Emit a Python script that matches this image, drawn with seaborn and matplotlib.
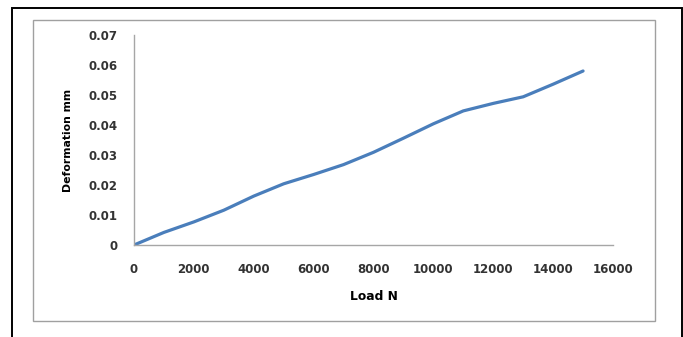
import matplotlib
matplotlib.use("Agg")
import matplotlib.pyplot as plt
import seaborn as sns
import pandas as pd
from matplotlib.patches import Rectangle

load_n = [0, 1000, 2000, 3000, 4000, 5000, 6000, 7000, 8000, 9000,
          10000, 11000, 12000, 13000, 14000, 15000]
deformation_mm = [0.0, 0.0042, 0.0077, 0.0116, 0.0163, 0.0204, 0.0235, 0.0268,
                  0.0309, 0.0356, 0.0404, 0.0447, 0.0472, 0.0494, 0.0536, 0.058]
x_ticks = [0, 2000, 4000, 6000, 8000, 10000, 12000, 14000, 16000]
y_ticks = [0, 0.01, 0.02, 0.03, 0.04, 0.05, 0.06, 0.07]
y_tick_labels = ["0", "0.01", "0.02", "0.03", "0.04", "0.05", "0.06", "0.07"]

df = pd.DataFrame({"Load N": load_n, "Deformation mm": deformation_mm})

sns.set_theme(style="white")
plt.rcParams['font.family'] = ['DejaVu Sans']

W, H = 683, 337
fig = plt.figure(figsize=(W / 100, H / 100), dpi=100)
fig.patch.set_facecolor("white")

# outer black border (bottom edge outside the image) and inner gray chart frame
fig.add_artist(Rectangle((11.5 / W, -0.2), (682 - 11.5) / W, 1.2 - 7.5 / H, transform=fig.transFigure,
                         fill=False, edgecolor="black", linewidth=1.4))
fig.add_artist(Rectangle((33 / W, 1 - 321 / H), (655 - 33) / W, (321 - 19.5) / H,
                         transform=fig.transFigure, fill=False, edgecolor="#a0a0a0", linewidth=1.0))

ax = fig.add_axes([134 / W, 1 - 245 / H, (613 - 134) / W, (245 - 35) / H])
sns.lineplot(data=df, x="Load N", y="Deformation mm", ax=ax, color="#4a7ebb", linewidth=2.3)

ax.set_xlim(0, 16000)
ax.set_ylim(0, 0.07)
ax.set_xticks(x_ticks)
ax.set_xticklabels([str(t) for t in x_ticks])
ax.set_yticks(y_ticks)
ax.set_yticklabels(y_tick_labels)
ax.tick_params(axis="both", length=0, labelsize=8.5, colors="#333333")
ax.tick_params(axis="y", pad=12)
ax.tick_params(axis="x", pad=13)
for lbl in ax.get_xticklabels() + ax.get_yticklabels():
    lbl.set_fontweight("bold")

for s in ["top", "right"]:
    ax.spines[s].set_visible(False)
for s in ["left", "bottom"]:
    ax.spines[s].set_color("#a6a6a6")
    ax.spines[s].set_linewidth(1.0)

ax.set_xlabel("Load N", fontsize=8.8, fontweight="bold", labelpad=10, color="black")
ax.set_ylabel("Deformation mm", fontsize=7.8, fontweight="heavy", labelpad=11, color="black")

fig.savefig("out.png", dpi=100)
